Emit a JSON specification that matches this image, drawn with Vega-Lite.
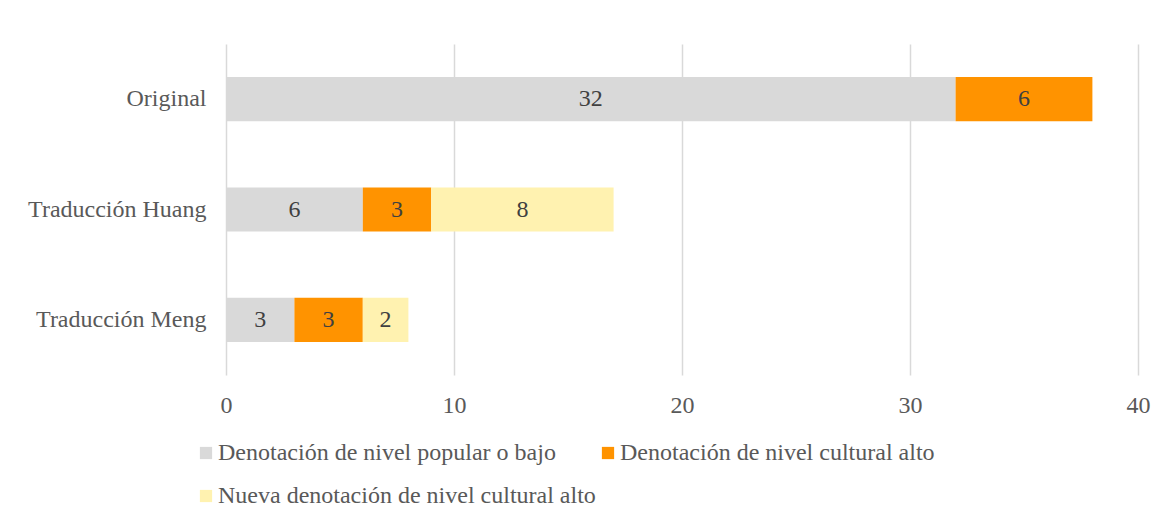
{
  "$schema": "https://vega.github.io/schema/vega-lite/v6.json",
  "width": 912,
  "height": 331,
  "autosize": {"type": "none"},
  "padding": {"left": 226, "top": 44, "right": 28, "bottom": 148},
  "background": "white",
  "config": {
    "view": {"stroke": null},
    "font": "Liberation Serif"
  },
  "data": {
    "values": [
      {"grupo": "Original", "tipo": "Denotación de nivel popular o bajo", "orden": 1, "valor": 32},
      {"grupo": "Original", "tipo": "Denotación de nivel cultural alto", "orden": 2, "valor": 6},
      {"grupo": "Traducción Huang", "tipo": "Denotación de nivel popular o bajo", "orden": 1, "valor": 6},
      {"grupo": "Traducción Huang", "tipo": "Denotación de nivel cultural alto", "orden": 2, "valor": 3},
      {"grupo": "Traducción Huang", "tipo": "Nueva denotación de nivel cultural alto", "orden": 3, "valor": 8},
      {"grupo": "Traducción Meng", "tipo": "Denotación de nivel popular o bajo", "orden": 1, "valor": 3},
      {"grupo": "Traducción Meng", "tipo": "Denotación de nivel cultural alto", "orden": 2, "valor": 3},
      {"grupo": "Traducción Meng", "tipo": "Nueva denotación de nivel cultural alto", "orden": 3, "valor": 2}
    ]
  },
  "encoding": {
    "y": {
      "field": "grupo",
      "type": "nominal",
      "sort": ["Original", "Traducción Huang", "Traducción Meng"],
      "scale": {"paddingInner": 0.6, "paddingOuter": 0.3},
      "axis": {
        "title": null,
        "domain": false,
        "ticks": false,
        "labelFont": "Liberation Serif",
        "labelFontSize": 24,
        "labelColor": "#595959",
        "labelPadding": 20
      }
    }
  },
  "layer": [
    {
      "mark": {"type": "bar"},
      "encoding": {
        "x": {
          "field": "valor",
          "type": "quantitative",
          "stack": "zero",
          "scale": {"domain": [0, 40], "nice": false},
          "axis": {
            "title": null,
            "values": [0, 10, 20, 30, 40],
            "domain": false,
            "ticks": false,
            "grid": true,
            "gridColor": "#d9d9d9",
            "gridWidth": 1.5,
            "labelFlush": false,
            "labelFont": "Liberation Serif",
            "labelFontSize": 24,
            "labelColor": "#595959",
            "labelPadding": 18
          }
        },
        "order": {"field": "orden", "type": "quantitative"},
        "color": {
          "field": "tipo",
          "type": "nominal",
          "scale": {
            "domain": ["Denotación de nivel popular o bajo", "Denotación de nivel cultural alto", "Nueva denotación de nivel cultural alto"],
            "range": ["#d9d9d9", "#ff9300", "#fff2b0"]
          },
          "legend": {
            "title": null,
            "orient": "none",
            "legendX": -32,
            "legendY": 397,
            "direction": "horizontal",
            "columns": 2,
            "symbolType": "square",
            "symbolSize": 150,
            "symbolStrokeWidth": 0,
            "labelFont": "Liberation Serif",
            "labelFontSize": 24,
            "labelColor": "#595959",
            "labelOffset": 0,
            "labelLimit": 600,
            "rowPadding": 19,
            "columnPadding": -2
          }
        }
      }
    },
    {
      "mark": {"type": "text", "font": "Liberation Serif", "fontSize": 24, "color": "#404040", "baseline": "middle", "align": "center"},
      "encoding": {
        "x": {"field": "valor", "type": "quantitative", "stack": "zero", "bandPosition": 0.5},
        "order": {"field": "orden", "type": "quantitative"},
        "detail": {"field": "tipo", "type": "nominal"},
        "text": {"field": "valor", "type": "quantitative"}
      }
    }
  ]
}
